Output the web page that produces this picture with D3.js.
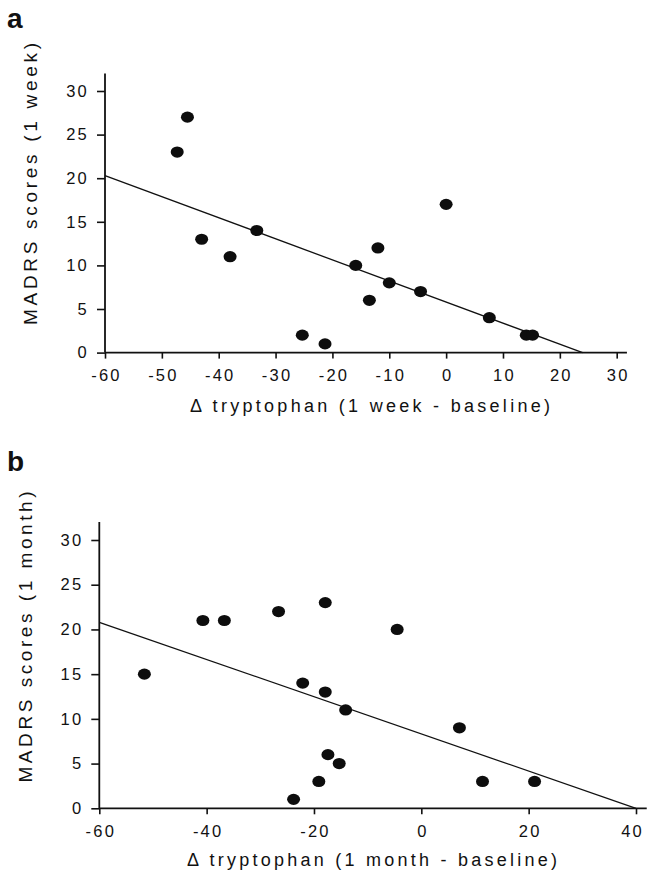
<!DOCTYPE html>
<html>
<head>
<meta charset="utf-8">
<script src="https://cdn.jsdelivr.net/npm/d3@7"></script>
<style>
  body { margin: 0; background: #fff; }
  svg { display: block; }
  text { font-family: "Liberation Sans", Arial, sans-serif; fill: #111; }
</style>
</head>
<body>
<div id="chart"></div>
<script>
// values
var yTicks = [0, 5, 10, 15, 20, 25, 30];

var weekXTicks = [-60, -50, -40, -30, -20, -10, 0, 10, 20, 30];
var weekX = [-47.3, -45.5, -43, -38, -33.3, -25.3, -21.3, -15.9, -12, -13.5, -10, -4.5, 0, 7.6, 14.1, 15.2];
var weekY = [23, 27, 13, 11, 14, 2, 1, 10, 12, 6, 8, 7, 17, 4, 2, 2];
var weekFit = [[-60, 20.3], [24, 0]];

var monthXTicks = [-60, -40, -20, 0, 20, 40];
var monthX = [-51.6, -40.7, -36.7, -26.6, -17.9, -4.5, -22.1, -17.9, -14.1, 7.1, -17.4, -15.3, -19.1, -23.8, 11.4, 21.1];
var monthY = [15, 21, 21, 22, 23, 20, 14, 13, 11, 9, 6, 5, 3, 1, 3, 3];
var monthFit = [[-60, 20.8], [40, 0]];

var width = 647;
var height = 876;

var svg = d3.select("#chart")
    .append("svg")
    .attr("width", width)
    .attr("height", height);

function panel(opt) {
    var x = d3.scaleLinear().domain([-60, opt.xMax]).range(opt.xRange);
    var y = d3.scaleLinear().domain([0, 30]).range(opt.yRange);
    var g = svg.append("g");

    // panel letter
    g.append("text")
        .attr("x", 7)
        .attr("y", opt.letterY)
        .style("font-size", "28px")
        .style("font-weight", "bold")
        .text(opt.letter);

    // axes lines (they run a bit past the last tick)
    g.append("line")
        .attr("x1", x(-60)).attr("x2", x(opt.xEnd))
        .attr("y1", y(0)).attr("y2", y(0))
        .attr("stroke", "#111").attr("stroke-width", 1.8);
    g.append("line")
        .attr("x1", x(-60)).attr("x2", x(-60))
        .attr("y1", y(0)).attr("y2", y(32))
        .attr("stroke", "#111").attr("stroke-width", 1.8);

    // plain hyphen for negatives, like the original
    var fmt = function(d) { return String(d); };
    var xAxis = g.append("g")
        .attr("transform", "translate(0," + y(0) + ")")
        .call(d3.axisBottom(x).tickValues(opt.xTicks).tickFormat(fmt)
            .tickSize(6).tickSizeOuter(0).tickPadding(11));
    var yAxis = g.append("g")
        .attr("transform", "translate(" + x(-60) + ",0)")
        .call(d3.axisLeft(y).tickValues(yTicks).tickFormat(fmt)
            .tickSize(8).tickSizeOuter(0).tickPadding(10));

    [xAxis, yAxis].forEach(function(a) {
        a.select(".domain").remove();
        a.selectAll("line").attr("stroke", "#111").attr("stroke-width", 1.6);
        a.selectAll("text")
            .attr("fill", "#111")
            .style("font-family", "'Liberation Sans', Arial, sans-serif")
            .style("font-size", "16.5px")
            .style("letter-spacing", "2.2px");
    });
    yAxis.selectAll("text").attr("dx", "2px");
    xAxis.selectAll("text").attr("dx", function(d) {
        // last label sits right at the page edge
        return x(d) + 14 > width ? "-4px" : "1px";
    });

    // regression line
    g.append("path")
        .datum(opt.fit)
        .attr("d", d3.line().x(function(d) { return x(d[0]); }).y(function(d) { return y(d[1]); }))
        .attr("fill", "none")
        .attr("stroke", "#111")
        .attr("stroke-width", 1.3);

    // points
    g.selectAll("ellipse.pt")
        .data(opt.xs)
        .enter().append("ellipse")
        .attr("class", "pt")
        .attr("cx", function(d) { return x(d); })
        .attr("cy", function(d, i) { return y(opt.ys[i]); })
        .attr("rx", 6.5)
        .attr("ry", 5.6)
        .attr("fill", "#0d0d0d");

    // axis titles
    g.append("text")
        .attr("x", opt.xTitle[0])
        .attr("y", opt.xTitle[1])
        .attr("text-anchor", "middle")
        .attr("textLength", opt.xTitle[2])
        .attr("lengthAdjust", "spacing")
        .style("font-size", "18px")
        .text(opt.xLabel);
    g.append("text")
        .attr("transform", "translate(" + opt.yTitle[0] + "," + opt.yTitle[1] + ") rotate(-90)")
        .attr("text-anchor", "middle")
        .attr("textLength", opt.yTitle[2])
        .attr("lengthAdjust", "spacing")
        .style("font-size", "19px")
        .text(opt.yLabel);
}

panel({
    letter: "a", letterY: 28,
    xMax: 30, xEnd: 31.8, xRange: [105, 616.7], yRange: [352.6, 91],
    xTicks: weekXTicks, xs: weekX, ys: weekY, fit: weekFit,
    xLabel: "\u0394 tryptophan (1 week - baseline)", xTitle: [370, 412, 360],
    yLabel: "MADRS scores (1 week)", yTitle: [37, 184, 282]
});

panel({
    letter: "b", letterY: 471,
    xMax: 40, xEnd: 42, xRange: [99.3, 636], yRange: [808.3, 540],
    xTicks: monthXTicks, xs: monthX, ys: monthY, fit: monthFit,
    xLabel: "\u0394 tryptophan (1 month - baseline)", xTitle: [372, 866, 370],
    yLabel: "MADRS scores (1 month)", yTitle: [32, 637, 291]
});
</script>
</body>
</html>
